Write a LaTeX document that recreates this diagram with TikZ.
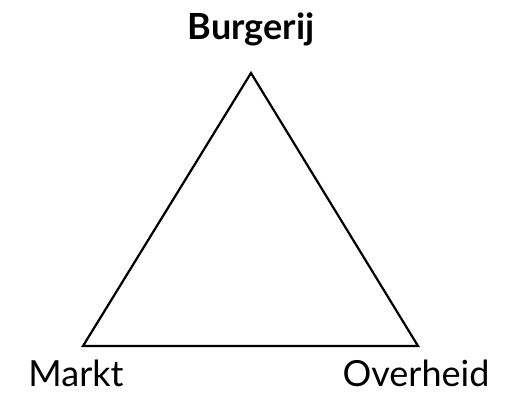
\documentclass[tikz,border=0pt]{standalone}
\usepackage{fontspec}
\setmainfont{Lato}
\begin{document}
\begin{tikzpicture}[x=1pt,y=-1pt,
  lbl/.style={inner sep=0pt,anchor=base,font=\fontsize{36}{40}\selectfont},
  edge/.style={line width=2.2pt,line join=miter}]
\useasboundingbox (0,0) rectangle (531,393);
\coordinate (top) at (251,73);
\coordinate (bl) at (83,346);
\coordinate (br) at (418,346);
\draw[edge] (top) -- (bl) -- (br) -- cycle;
\node[lbl,font=\fontsize{36}{40}\selectfont\bfseries] (b) at (251,40) {Burgerij};
\node[lbl] (m) at (76,386) {Markt};
\node[lbl] (o) at (416,386) {Overheid};
\end{tikzpicture}
\end{document}
